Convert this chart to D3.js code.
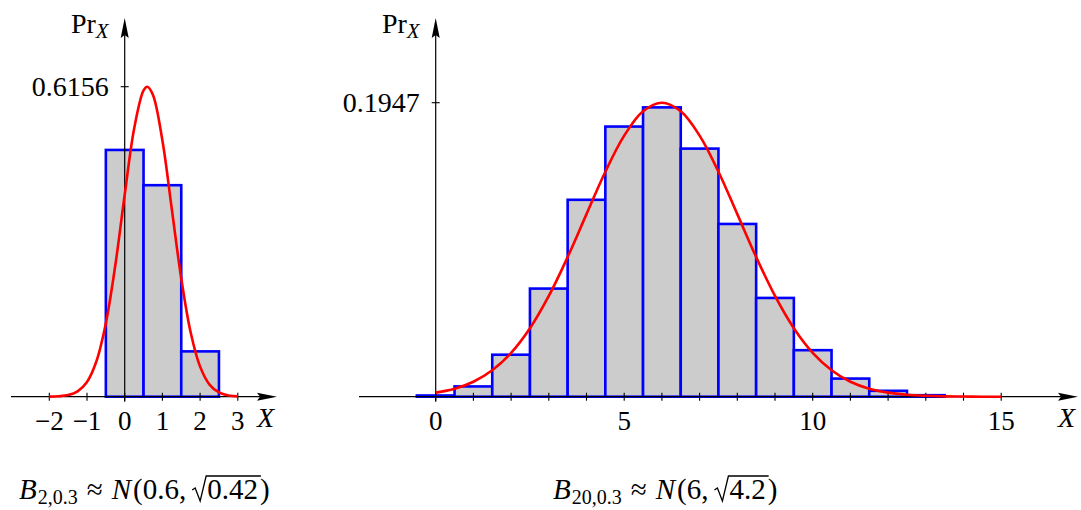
<!DOCTYPE html>
<html>
<head>
<meta charset="utf-8">
<script src="https://cdn.jsdelivr.net/npm/d3@7"></script>
<style>
  body { margin: 0; background: #fff; }
  svg { display: block; }
</style>
</head>
<body>
<svg id="chart" width="1081" height="510"></svg>
<script>
// ---- data ----
const leftK = [0, 1, 2];
const leftP = [0.49, 0.42, 0.09];
const leftCurveX = [-2, -1.75, -1.5, -1.25, -1, -0.75, -0.5, -0.25, 0, 0.25, 0.5, 0.6, 0.75, 1, 1.25, 1.5, 1.75, 2, 2.25, 2.5, 2.75, 3];
const leftCurveY = [0.0002, 0.0009, 0.0032, 0.0105, 0.0292, 0.0703, 0.1458, 0.2605, 0.4010, 0.5321, 0.6083, 0.6156, 0.5993, 0.5088, 0.3723, 0.2347, 0.1275, 0.0597, 0.0241, 0.0084, 0.0025, 0.0007];
const leftXTicks = [-2, -1, 0, 1, 2, 3];
const leftYTicks = [0.6156];

const rightK = [0, 1, 2, 3, 4, 5, 6, 7, 8, 9, 10, 11, 12, 13];
const rightP = [0.0008, 0.0068, 0.0278, 0.0716, 0.1304, 0.1789, 0.1916, 0.1643, 0.1144, 0.0654, 0.0308, 0.0120, 0.0039, 0.0010];
const rightCurveX = [0, 0.5, 1, 1.5, 2, 2.5, 3, 3.5, 4, 4.5, 5, 5.5, 6, 6.5, 7, 7.5, 8, 8.5, 9, 9.5, 10, 10.5, 11, 11.5, 12, 12.5, 13, 13.5, 14, 14.5, 15];
const rightCurveY = [0.0027, 0.0053, 0.0099, 0.0175, 0.0290, 0.0453, 0.0667, 0.0925, 0.1209, 0.1490, 0.1729, 0.1890, 0.1947, 0.1890, 0.1729, 0.1490, 0.1209, 0.0925, 0.0667, 0.0453, 0.0290, 0.0175, 0.0099, 0.0053, 0.0027, 0.0013, 0.0006, 0.0002, 0.0001, 0.0000, 0.0000];
const rightXTicks = [0, 1, 2, 3, 4, 5, 6, 7, 8, 9, 10, 11, 12, 13, 14, 15];
const rightXLabels = [0, 5, 10, 15];
const rightYTicks = [0.1947];

const font = "'Liberation Serif', 'Times New Roman', serif";
const svg = d3.select("#chart");
const axisY = 396.7;
const capY = 499;
const minus = v => (v < 0 ? "\u2212" + Math.abs(v) : String(v));

function panel(o) {
  const g = svg.append("g");
  const x = d3.scaleLinear().domain([0, 3]).range([o.x0, o.x0 + 3 * 37.7]);
  const y = d3.scaleLinear().domain([0, o.yTop]).range([axisY, o.yTopPx]);

  // bars
  g.selectAll("rect.bar").data(o.k).join("rect")
    .attr("x", d => x(d - 0.5))
    .attr("width", x(1) - x(0))
    .attr("y", (d, i) => y(o.p[i]))
    .attr("height", (d, i) => axisY - y(o.p[i]))
    .attr("fill", "#cccccc")
    .attr("stroke", "#0000ff")
    .attr("stroke-width", 2.6);

  // x axis line + arrow
  g.append("line").attr("x1", o.axStart).attr("x2", o.axEnd - 12)
    .attr("y1", axisY).attr("y2", axisY).attr("stroke", "#000").attr("stroke-width", 1.2);
  g.append("path")
    .attr("d", `M${o.axEnd},${axisY} L${o.axEnd - 20},${axisY - 4} L${o.axEnd - 17},${axisY} L${o.axEnd - 20},${axisY + 4} Z`)
    .attr("fill", "#000");

  // x ticks
  g.selectAll("line.xt").data(o.xTicks).join("line")
    .attr("x1", d => x(d)).attr("x2", d => x(d))
    .attr("y1", axisY - 4).attr("y2", axisY + 4)
    .attr("stroke", "#000").attr("stroke-width", 1.1);
  g.selectAll("text.xl").data(o.xLabels).join("text")
    .attr("x", d => x(d)).attr("y", 430)
    .attr("text-anchor", "middle")
    .attr("font-family", font).attr("font-size", 27)
    .text(d => minus(d));

  // X label
  g.append("text").attr("x", o.axEnd - 20).attr("y", 427)
    .attr("font-family", font).attr("font-size", 28).attr("font-style", "italic")
    .text("X");

  // y axis line + arrow
  const yx = x(0);
  g.append("line").attr("x1", yx).attr("x2", yx)
    .attr("y1", axisY + 5).attr("y2", 30)
    .attr("stroke", "#000").attr("stroke-width", 1.2);
  g.append("path")
    .attr("d", `M${yx},18 L${yx - 4},38 L${yx},35 L${yx + 4},38 Z`)
    .attr("fill", "#000");

  // y ticks
  g.selectAll("line.yt").data(o.yTicks).join("line")
    .attr("x1", yx - 4).attr("x2", yx + 4)
    .attr("y1", d => y(d)).attr("y2", d => y(d))
    .attr("stroke", "#000").attr("stroke-width", 1.1);
  g.selectAll("text.yl").data(o.yTicks).join("text")
    .attr("x", yx - 16).attr("y", d => y(d) + 9.5)
    .attr("text-anchor", "end")
    .attr("font-family", font).attr("font-size", 28)
    .text(d => d);

  // Pr_X label
  const pr = g.append("text").attr("x", yx - 16).attr("y", 33)
    .attr("text-anchor", "end")
    .attr("font-family", font).attr("font-size", 28);
  pr.append("tspan").text("Pr");
  pr.append("tspan").attr("dy", 5).attr("font-size", 21).attr("font-style", "italic").text("X");

  // normal curve
  const line = d3.line()
    .x((d, i) => x(o.cx[i]))
    .y(d => y(d))
    .curve(d3.curveCatmullRom);
  g.append("path").datum(o.cy)
    .attr("d", line)
    .attr("fill", "none")
    .attr("stroke", "#ff0000")
    .attr("stroke-width", 2.6);

  // caption  B_{n,p} ≈ N(mu, sqrt(v))
  const cap = g.append("text").attr("x", o.capX).attr("y", capY)
    .attr("font-family", font).attr("font-size", 29);
  cap.append("tspan").attr("font-style", "italic").text("B");
  cap.append("tspan").attr("dx", 1).attr("dy", 5).attr("font-size", 20).text(o.sub);
  cap.append("tspan").attr("dx", 9).attr("dy", -5).text("\u2248");
  cap.append("tspan").attr("dx", 9).attr("font-style", "italic").text("N");
  cap.append("tspan").attr("dx", 2).text("(" + o.mu + ",");
  cap.append("tspan").attr("dx", 21).text(o.v);
  cap.append("tspan").attr("dx", 2).text(")");
  // radical sign drawn over the gap before the value
  const node = cap.node();
  const s = node.textContent;
  const vi = s.lastIndexOf(o.v);
  const first = node.getExtentOfChar(vi);
  const last = node.getExtentOfChar(vi + o.v.length - 1);
  const r1 = first.x - 1;
  const r0 = r1 - 14;
  const vEnd = last.x + last.width + 3;
  const top = capY - 23;
  g.append("path")
    .attr("d", `M${r0},${capY - 9} L${r0 + 3},${capY - 11} L${r0 + 8},${capY + 2} L${r1},${top} L${vEnd},${top}`)
    .attr("fill", "none")
    .attr("stroke", "#000")
    .attr("stroke-width", 1.3);
}

panel({
  x0: 124.7, yTop: leftYTicks[0], yTopPx: 86.7,
  k: leftK, p: leftP, cx: leftCurveX, cy: leftCurveY,
  xTicks: leftXTicks, xLabels: leftXTicks, yTicks: leftYTicks,
  axStart: 11, axEnd: 277,
  capX: 19, sub: "2,0.3", mu: "0.6", v: "0.42"
});

panel({
  x0: 435.7, yTop: rightYTicks[0], yTopPx: 102.7,
  k: rightK, p: rightP, cx: rightCurveX, cy: rightCurveY,
  xTicks: rightXTicks, xLabels: rightXLabels, yTicks: rightYTicks,
  axStart: 359, axEnd: 1078,
  capX: 553, sub: "20,0.3", mu: "6", v: "4.2"
});
</script>
</body>
</html>
